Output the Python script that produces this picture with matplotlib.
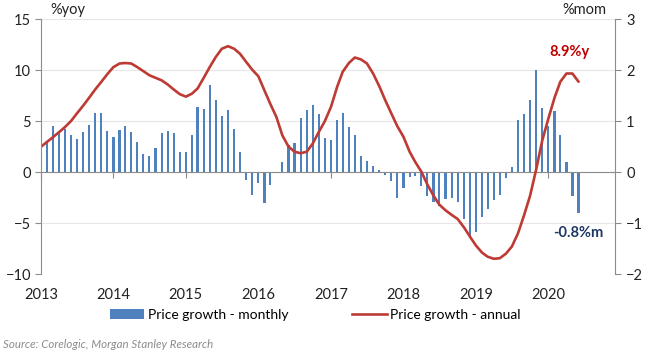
import numpy as np
import pandas as pd
import matplotlib
matplotlib.use('Agg')
import matplotlib.pyplot as plt
from matplotlib.patches import Patch
from matplotlib.lines import Line2D

plt.rcParams['font.family'] = ['Lato', 'DejaVu Sans']

# monthly price growth (%mom), Feb 2013 - Jun 2020
mom_dates = pd.date_range('2013-02-01', '2020-06-01', freq='MS')
mom = [0.59, 0.90, 0.79, 0.84, 0.72, 0.65, 0.78, 0.92, 1.16, 1.16, 0.80, 0.69,
       0.82, 0.91, 0.78, 0.60, 0.35, 0.31, 0.48, 0.76, 0.80, 0.76, 0.39, 0.39,
       0.72, 1.28, 1.24, 1.71, 1.41, 1.10, 1.21, 0.84, 0.39, -0.16, -0.44, -0.22,
       -0.60, -0.25, 0.01, 0.19, 0.54, 0.58, 1.06, 1.22, 1.31, 1.13, 0.67,
       0.62, 1.02, 1.15, 0.88, 0.73, 0.31, 0.21, 0.12, 0.04, -0.06, -0.18, -0.50,
       -0.31, -0.09, -0.07, -0.27, -0.47, -0.59, -0.67, -0.52, -0.50, -0.59, -0.92, -1.30,
       -1.17, -0.88, -0.72, -0.55, -0.44, -0.12, 0.10, 1.02, 1.13, 1.42, 2.00, 1.25,
       0.90, 1.20, 0.73, 0.20, -0.46, -0.81]

# annual price growth (%yoy), Jan 2013 - Jun 2020
yoy_dates = pd.date_range('2013-01-01', '2020-06-01', freq='MS')
yoy = [2.48, 2.97, 3.4, 3.9, 4.4, 5.0, 5.75, 6.5, 7.3, 8.1, 8.85, 9.6,
       10.3, 10.65, 10.7, 10.65, 10.3, 9.9, 9.5, 9.25, 9.0, 8.6, 8.1, 7.65,
       7.4, 7.7, 8.2, 9.25, 10.3, 11.3, 12.1, 12.35, 12.1, 11.6, 10.8, 10.05,
       9.4, 8.0, 6.7, 5.4, 3.6, 2.5, 2.0, 1.85, 2.0, 2.8, 3.95, 5.0,
       6.4, 8.37, 9.84, 10.7, 11.24, 11.05, 10.65, 9.67, 8.43, 7.06, 5.75, 4.5,
       3.46, 2.0, 1.0, 0.05, -1.2, -2.3, -3.2, -3.75, -4.2, -4.6, -5.4, -6.3,
       -7.2, -7.9, -8.3, -8.5, -8.45, -8.0, -7.3, -6.0, -4.2, -2.3, 0.3, 3.1,
       5.26, 7.3, 8.86, 9.67, 9.67, 8.86]

years = ['2013', '2014', '2015', '2016', '2017', '2018', '2019', '2020']

blue = '#4F81BD'
red = '#BE3A34'
grey = '#8C8C8C'

fig = plt.figure(figsize=(6.5, 3.55), dpi=100)
ax = fig.add_axes([0.063, 0.228, 0.883, 0.718])
ax2 = ax.twinx()

# bars on right axis, behind the line
ax2.bar(mom_dates, mom, width=11, color=blue, lw=0, zorder=2)
ax2.set_ylim(-2, 3)
ax2.set_yticks(range(-2, 4))
ax2.grid(axis='y', color='#E6E6E6', lw=0.8, zorder=0)
ax2.set_axisbelow(True)

ax.plot(yoy_dates, yoy, color=red, lw=1.9, solid_capstyle='round')
ax.set_ylim(-10, 15)
ax.set_yticks(range(-10, 16, 5))
ax.set_zorder(ax2.get_zorder() + 1)
ax.patch.set_visible(False)

xmin, xmax = pd.Timestamp('2013-01-01'), pd.Timestamp('2020-12-01')
ax.set_xlim(xmin, xmax)
ticks = [pd.Timestamp(y + '-01-01') for y in years]
ax.set_xticks(ticks)
ax.set_xticklabels(years)
ax.tick_params(axis='x', length=0, pad=10, labelsize=10.5, labelcolor='#222222')

# zero line with year ticks
ax2.xaxis.set_visible(True)
ax2.spines['bottom'].set_position(('data', 0))
ax2.spines['bottom'].set_color(grey)
ax2.set_xticks(ticks)
ax2.tick_params(axis='x', labelbottom=False, length=4, color=grey, direction='out')

for a in (ax, ax2):
    a.spines['top'].set_visible(False)
ax.spines['bottom'].set_visible(False)
ax.spines['right'].set_visible(False)
ax.spines['left'].set_color(grey)
ax2.spines['left'].set_visible(False)
ax2.spines['right'].set_color(grey)
ax.tick_params(axis='y', length=4, color=grey, labelsize=10.5, labelcolor='#222222', pad=3)
ax2.tick_params(axis='y', length=4, color=grey, labelsize=10.5, labelcolor='#222222', pad=4)

ax.text(0.016, 1.035, '%yoy', transform=ax.transAxes, fontsize=10.5, va='center', ha='left', color='#222222')
ax.text(0.986, 1.035, '%mom', transform=ax.transAxes, fontsize=10.5, va='center', ha='right', color='#222222')

ax.text(yoy_dates[-1] + pd.Timedelta(days=-45), 11.8, '8.9%y', color='#C00000',
        fontsize=10.5, fontweight='bold', ha='center', va='center')
ax.text(mom_dates[-1], -5.95, '-0.8%m', color='#1F3864',
        fontsize=10.5, fontweight='bold', ha='center', va='center')

handles = [Patch(facecolor=blue, edgecolor='none'),
           Line2D([0], [0], color=red, lw=1.9)]
fig.legend(handles, ['Price growth - monthly', 'Price growth - annual'],
           loc='center', bbox_to_anchor=(0.485, 0.113), ncol=2, frameon=False,
           fontsize=10, handlelength=2.5, handletextpad=0.25, columnspacing=4.6)

fig.text(0.005, 0.03, 'Source: Corelogic, Morgan Stanley Research', fontsize=8.3,
         style='italic', color='#8C8C8C', ha='left', va='center')

fig.savefig('out.png', dpi=100)
